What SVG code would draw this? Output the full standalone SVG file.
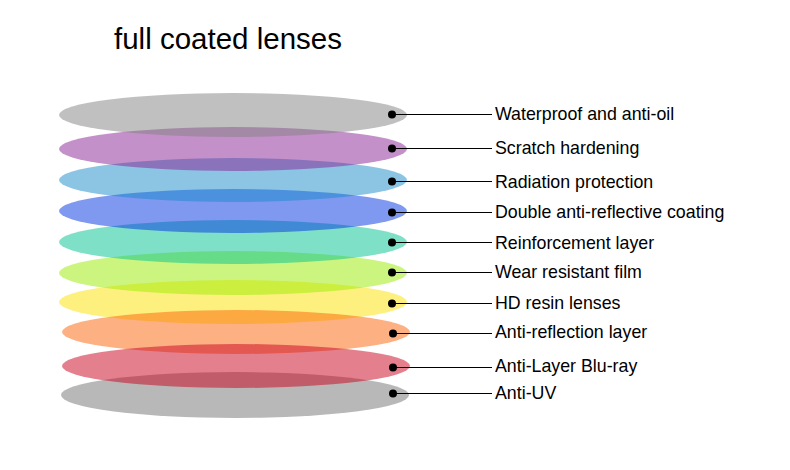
<svg xmlns="http://www.w3.org/2000/svg" width="790" height="470" viewBox="0 0 790 470">
<style>
.lens{opacity:0.5}
.lbl{font-family:"Liberation Sans",Arial,sans-serif;font-size:17.8px;fill:#000}
.title{font-family:"Liberation Sans",Arial,sans-serif;font-size:29.5px;fill:#000}
.ln{stroke:#000;stroke-width:1.2}
.dot{fill:#000}
</style>
<rect width="790" height="470" fill="#fff"/>
<text class="title" x="114" y="49">full coated lenses</text>
<g id="lenses">
<ellipse id="lens10" class="lens" cx="235" cy="395" rx="174" ry="23" fill="#717171"/>
<ellipse id="lens7" class="lens" cx="233" cy="302" rx="174" ry="22" fill="#fde100"/>
<ellipse id="lens8" class="lens" cx="236" cy="332" rx="174" ry="22" fill="#fb6105"/>
<ellipse id="lens9" class="lens" cx="236" cy="366" rx="174" ry="22" fill="#c9001d"/>
<ellipse id="lens6" class="lens" cx="233" cy="273" rx="174" ry="22" fill="#99eb00"/>
<ellipse id="lens5" class="lens" cx="233" cy="242" rx="174" ry="22" fill="#00c191"/>
<ellipse id="lens4" class="lens" cx="233" cy="211" rx="174" ry="22" fill="#0031e1"/>
<ellipse id="lens3" class="lens" cx="233" cy="180" rx="174" ry="22" fill="#1989c9"/>
<ellipse id="lens2" class="lens" cx="233" cy="149" rx="174" ry="22" fill="#892193"/>
<ellipse id="lens1" class="lens" cx="233" cy="115" rx="174" ry="22" fill="#818181"/>
</g>
<g id="connectors">
<line class="ln" x1="392" y1="114.5" x2="492" y2="114.5"/>
<line class="ln" x1="392" y1="148.5" x2="492" y2="148.5"/>
<line class="ln" x1="392" y1="181.5" x2="492" y2="181.5"/>
<line class="ln" x1="392" y1="212.5" x2="492" y2="212.5"/>
<line class="ln" x1="392" y1="242.5" x2="492" y2="242.5"/>
<line class="ln" x1="392" y1="272.5" x2="492" y2="272.5"/>
<line class="ln" x1="392" y1="303.5" x2="492" y2="303.5"/>
<line class="ln" x1="393" y1="333.5" x2="492" y2="333.5"/>
<line class="ln" x1="393" y1="367.5" x2="492" y2="367.5"/>
<line class="ln" x1="393" y1="393.5" x2="492" y2="393.5"/>
<circle class="dot" cx="392" cy="114.5" r="4"/>
<circle class="dot" cx="392" cy="148.5" r="4"/>
<circle class="dot" cx="392" cy="181.5" r="4"/>
<circle class="dot" cx="392" cy="212.5" r="4"/>
<circle class="dot" cx="392" cy="242.5" r="4"/>
<circle class="dot" cx="392" cy="272.5" r="4"/>
<circle class="dot" cx="392" cy="303.5" r="4"/>
<circle class="dot" cx="393" cy="333.5" r="4"/>
<circle class="dot" cx="393" cy="367.5" r="4"/>
<circle class="dot" cx="393" cy="393.5" r="4"/>
</g>
<g id="labels">
<text class="lbl" x="495" y="120">Waterproof and anti-oil</text>
<text class="lbl" x="495" y="154">Scratch hardening</text>
<text class="lbl" x="495" y="188">Radiation protection</text>
<text class="lbl" x="495" y="218">Double anti-reflective coating</text>
<text class="lbl" x="495" y="249">Reinforcement layer</text>
<text class="lbl" x="495" y="278">Wear resistant film</text>
<text class="lbl" x="495" y="309">HD resin lenses</text>
<text class="lbl" x="495" y="338">Anti-reflection layer</text>
<text class="lbl" x="495" y="372">Anti-Layer Blu-ray</text>
<text class="lbl" x="495" y="399">Anti-UV</text>
</g>
</svg>
